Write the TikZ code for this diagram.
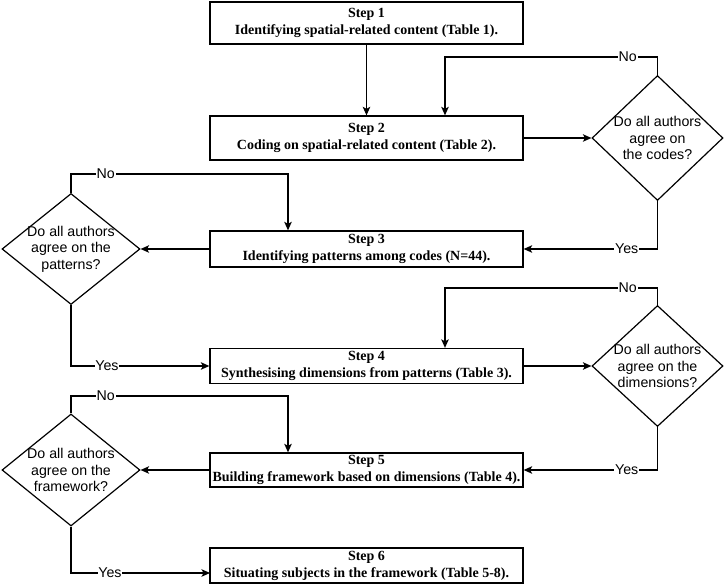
\documentclass[tikz,border=0pt]{standalone}
\usepackage{fontspec}
\setmainfont{Liberation Serif}
\newfontfamily\helv{Liberation Sans}
\usetikzlibrary{shapes.geometric,arrows.meta}
\begin{document}
\begin{tikzpicture}[x=1pt,y=-1pt,
  stepbox/.style={draw, line width=1.3pt, minimum width=313pt, inner sep=0pt, align=center,
    font=\fontsize{14}{17}\selectfont\bfseries},
  dia/.style={draw, diamond, line width=1.2pt, inner sep=0pt},
  dtext/.style={align=center, inner sep=0pt, font=\helv\fontsize{14.2}{16.5}\selectfont},
  lbl/.style={fill=white, inner sep=0.8pt, font=\helv\fontsize{14.2}{16}\selectfont},
  arr/.style={line width=1.2pt, -{Stealth[length=8.5pt,width=7.5pt,inset=2pt]}},
  ln/.style={line width=1.2pt}]
\useasboundingbox (0,0) rectangle (724,585);

% step boxes
\node[stepbox, minimum height=42pt] (s1) at (366.5,23) {Step 1\\Identifying spatial-related content (Table 1).};
\node[stepbox, minimum height=44pt] (s2) at (366.5,138) {Step 2\\Coding on spatial-related content (Table 2).};
\node[stepbox, minimum height=36pt] (s3) at (366.5,249) {Step 3\\Identifying patterns among codes (N=44).};
\node[stepbox, minimum height=35pt] (s4) at (366.5,366) {Step 4\\Synthesising dimensions from patterns (Table 3).};
\node[stepbox, minimum height=34pt] (s5) at (366.5,470) {Step 5\\Building framework based on dimensions (Table 4).};
\node[stepbox, minimum height=35pt] (s6) at (366.5,565.5) {Step 6\\Situating subjects in the framework (Table 5-8).};

% diamonds
\node[dia, minimum width=131pt, minimum height=125pt] (d1) at (657.5,138) {};
\node[dtext] (t1) at (d1) {Do all authors\\agree on\\the codes?};
\node[dia, minimum width=138pt, minimum height=111pt] (d2) at (71,249) {};
\node[dtext] (t2) at (d2) {Do all authors\\agree on the\\patterns?};
\node[dia, minimum width=131pt, minimum height=121pt] (d3) at (657.5,366) {};
\node[dtext] (t3) at (d3) {Do all authors\\agree on the\\dimensions?};
\node[dia, minimum width=138pt, minimum height=112pt] (d4) at (71,470) {};
\node[dtext] (t4) at (d4) {Do all authors\\agree on the\\framework?};

% loop-back coordinates
\coordinate (n1) at (445,57);
\coordinate (n2) at (288,174);
\coordinate (n3) at (445,288);
\coordinate (n4) at (288,396);
\coordinate (y4) at (210,573);

% connectors
\draw[arr] (s1.south) -- (s1.south |- s2.north);
\draw[arr] (s2.east) -- (d1.west);
\draw[arr] (d1.north) -- (d1.north |- n1) -- node[lbl, pos=0.14] {No} (n1) -- (n1 |- s2.north);
\draw[arr] (d1.south) -- (d1.south |- s3.east) -- node[lbl, pos=0.23] {Yes} (s3.east);

\draw[arr] (s3.west) -- (d2.east);
\draw[arr] (d2.north) -- (d2.north |- n2) -- node[lbl, pos=0.16] {No} (n2) -- (n2 |- s3.north);
\draw[arr] (d2.south) -- (d2.south |- s4.west) -- node[lbl, pos=0.26] {Yes} (s4.west);

\draw[arr] (s4.east) -- (d3.west);
\draw[arr] (d3.north) -- (d3.north |- n3) -- node[lbl, pos=0.14] {No} (n3) -- (n3 |- s4.north);
\draw[arr] (d3.south) -- (d3.south |- s5.east) -- node[lbl, pos=0.23] {Yes} (s5.east);

\draw[arr] (s5.west) -- (d4.east);
\draw[arr] (d4.north) -- (d4.north |- n4) -- node[lbl, pos=0.16] {No} (n4) -- (n4 |- s5.north);
\draw[arr] (d4.south) -- (d4.south |- y4) -- node[lbl, pos=0.28] {Yes} (y4);
\end{tikzpicture}
\end{document}
